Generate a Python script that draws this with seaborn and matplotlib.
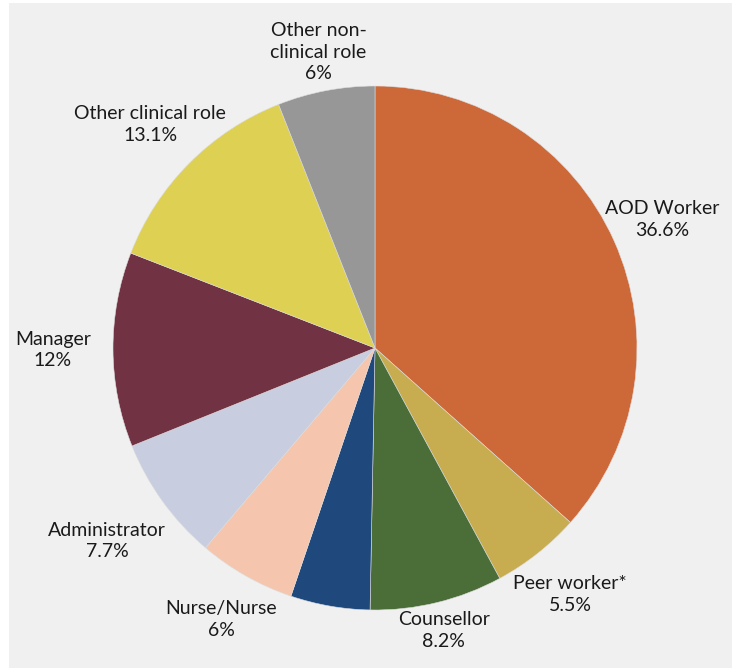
import matplotlib
matplotlib.use("Agg")
import matplotlib.pyplot as plt
from matplotlib.patches import Rectangle
import numpy as np
import seaborn as sns

# Staff roles and their share of the workforce (%)
roles = ["AOD Worker", "Peer worker*", "Counsellor", "", "Nurse/Nurse",
         "Administrator", "Manager", "Other clinical role", "Other non-\nclinical role"]
shares = [36.6, 5.5, 8.2, 4.9, 6, 7.7, 12, 13.1, 6]
share_labels = ["36.6%", "5.5%", "8.2%", "", "6%", "7.7%", "12%", "13.1%", "6%"]

colors = sns.color_palette(["#CD6839", "#C8AC50", "#4B6E38", "#1F497D", "#F5C6AD",
                            "#C8CDDF", "#713344", "#DDD053", "#979797"])
# radial placement of each label, in pie radii
label_dist = [1.20, 1.20, 1.11, 1.2, 1.19, 1.26, 1.23, 1.21, 1.15]

sns.set_theme(style="white")
plt.rcParams["font.family"] = ["Lato", "DejaVu Sans"]

W, H = 732, 668
fig = plt.figure(figsize=(W / 100, H / 100), dpi=100)
fig.patch.set_facecolor("white")
fig.patches.append(Rectangle((9 / W, 0), 1 - 9 / W, 1 - 3 / H, transform=fig.transFigure,
                             facecolor="#F0F0F0", edgecolor="none", zorder=-10))

R = 262
cx, cy = 375, H - 348
ax = fig.add_axes([(cx - R) / W, (cy - R) / H, 2 * R / W, 2 * R / H])
ax.set_facecolor("none")

wedges, _ = ax.pie(shares, colors=colors, startangle=90, counterclock=False,
                   wedgeprops=dict(edgecolor="#DDDDDD", linewidth=0.4))
ax.set_xlim(-1, 1)
ax.set_ylim(-1, 1)
ax.set_aspect("equal")
ax.axis("off")

for w, name, pct, d in zip(wedges, roles, share_labels, label_dist):
    if not name:
        continue
    ang = np.deg2rad((w.theta1 + w.theta2) / 2)
    ax.text(d * np.cos(ang), d * np.sin(ang), f"{name}\n{pct}", ha="center", va="center",
            fontsize=14, color="#1A1A1A", linespacing=1.32, clip_on=False)

fig.savefig("out.png", dpi=100, facecolor="white")
